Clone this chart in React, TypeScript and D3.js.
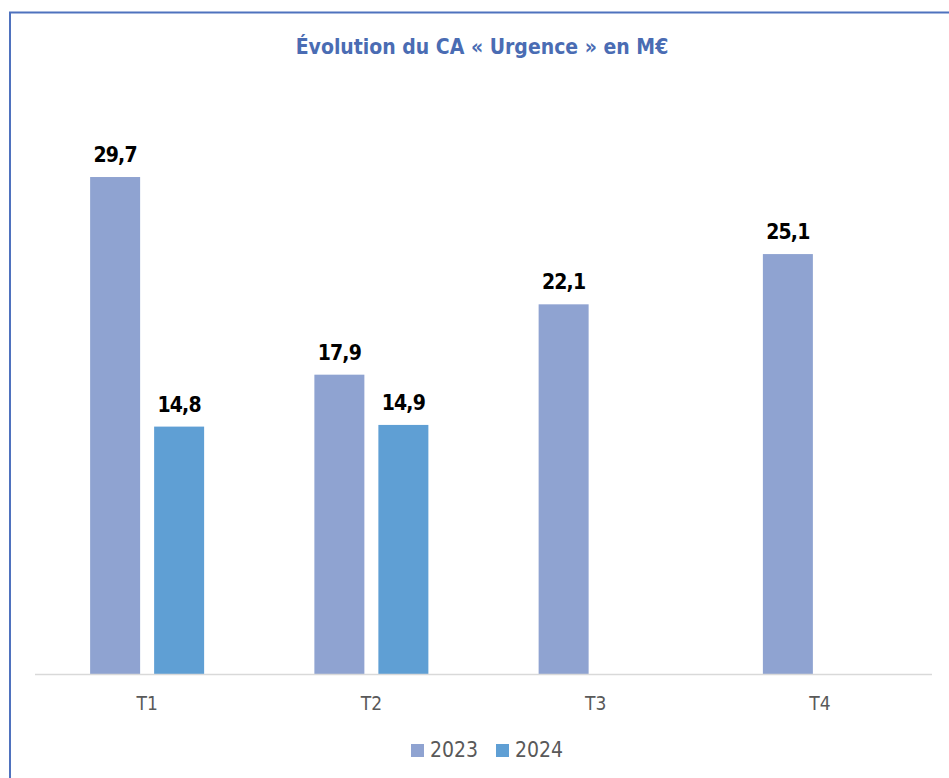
import React from "react";
import * as d3 from "d3";

const categories = ["T1", "T2", "T3", "T4"];
const seriesNames = ["2023", "2024"];
const values2023: (number | null)[] = [29.7, 17.9, 22.1, 25.1];
const values2024: (number | null)[] = [14.8, 14.9, null, null];
const titleText = "Évolution du CA « Urgence » en M€";

const colors = ["#8FA3D1", "#5F9FD4"];
const W = 949;
const H = 778;
const FONT = "'DejaVu Sans Condensed', 'Roboto', sans-serif";

export default function App() {
  const plotLeft = 35;
  const plotRight = 932;
  const baseY = 674.5;
  const groupW = 114;
  const x0 = d3.scaleBand<string>().domain(categories).range([plotLeft, plotRight]).padding(0);
  const x1 = d3.scaleBand<string>().domain(seriesNames).range([0, groupW]).paddingInner(14 / 64).paddingOuter(0);
  const y = d3.scaleLinear().domain([0, 35]).range([baseY, baseY - 35 * 16.75]);
  const all = [values2023, values2024];

  return (
    <svg width={W} height={H} style={{ position: "absolute", left: 0, top: 0, background: "#fff" }}>
      <rect x={0} y={0} width={W} height={H} fill="#fff" />
      <path d={`M10,${H} L10,12.5 L${W},12.5`} fill="none" stroke="#4F72BE" strokeWidth={2} />
      <text x={482} y={54} textAnchor="middle" fontFamily={FONT} fontWeight="bold" fontSize={21} fill="#4A6CB3">
        {titleText}
      </text>
      {categories.map((c, i) => {
        const gx = (x0(c) as number) + x0.bandwidth() / 2 - groupW / 2;
        return (
          <g key={c}>
            {all.map((vals, s) => {
              const v = vals[i];
              if (v == null) return null;
              const bx = gx + (x1(seriesNames[s]) as number);
              return (
                <g key={s}>
                  <rect x={bx} y={y(v)} width={x1.bandwidth()} height={baseY - y(v)} fill={colors[s]} />
                  <text x={bx + x1.bandwidth() / 2} y={y(v) - 15} textAnchor="middle" fontFamily={FONT} fontWeight="bold" fontSize={21} letterSpacing={-0.8} fill="#000">
                    {v.toFixed(1).replace(".", ",")}
                  </text>
                </g>
              );
            })}
            <text x={(x0(c) as number) + x0.bandwidth() / 2} y={710} textAnchor="middle" fontFamily={FONT} fontSize={19} fill="#595959">
              {c}
            </text>
          </g>
        );
      })}
      <line x1={plotLeft} x2={plotRight} y1={baseY} y2={baseY} stroke="#D9D9D9" strokeWidth={1.5} />
      {seriesNames.map((s, i) => {
        const lx = 411 + i * 85;
        return (
          <g key={s}>
            <rect x={lx} y={744} width={13} height={13} fill={colors[i]} />
            <text x={lx + 19} y={757} fontFamily={FONT} fontSize={21} fill="#595959">{s}</text>
          </g>
        );
      })}
    </svg>
  );
}
